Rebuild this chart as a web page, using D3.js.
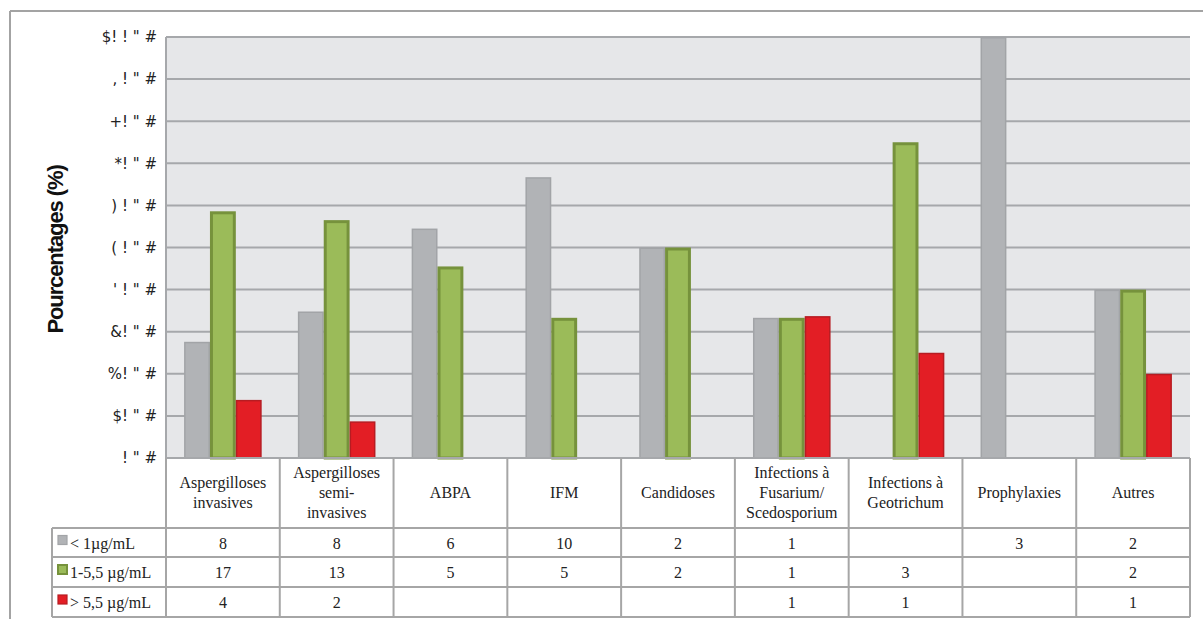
<!DOCTYPE html>
<html><head><meta charset="utf-8">
<script src="https://cdn.jsdelivr.net/npm/d3@7/dist/d3.min.js"></script>
<style>body{margin:0;background:#fff}svg{display:block}</style>
</head><body>
<svg id="c" width="1203" height="619"></svg>
<script>
const categories = [["Aspergilloses","invasives"],["Aspergilloses","semi-","invasives"],["ABPA"],["IFM"],["Candidoses"],["Infections à","Fusarium/","Scedosporium"],["Infections à","Geotrichum"],["Prophylaxies"],["Autres"]];
const seriesNames = ["< 1µg/mL","1-5,5 µg/mL","> 5,5 µg/mL"];
const pctLow  = [27.6, 34.8, 54.5, 66.7, 50, 33.3, null, 100, 40];
const pctMid  = [58.6, 56.5, 45.5, 33.3, 50, 33.3, 75, null, 40];
const pctHigh = [13.8, 8.7, null, null, null, 33.7, 25, null, 20];
const countLow  = ["8","8","6","10","2","1","","3","2"];
const countMid  = ["17","13","5","5","2","1","3","","2"];
const countHigh = ["4","2","","","","1","1","","1"];
const tickValues = [0,10,20,30,40,50,60,70,80,90,100];
const tickLabels = ['! " #','$! " #','%! " #','&! " #',"' ! \" #",'( ! " #',') ! " #','*! " #','+! " #',', ! " #','$! ! " #'];
const yTitle = "Pourcentages (%)";

const fills = ["#b1b3b6","#9bbb59","#e31e25"];
const strokes = ["#a2a4a7","#76923c","#b71c22"];
const strokeW = [1.5,3,1.5];

const svg = d3.select("#c");
const L=166, R=1190, T=37, B=458;
const x = d3.scaleBand().domain(d3.range(categories.length)).range([L,R]);
const xs = d3.scaleBand().domain([0,1,2]).range([0,x.bandwidth()]).paddingInner(0).paddingOuter(0.7);
const y = d3.scaleLinear().domain([0,100]).range([B,T]);
const grid="#a6a8ab";

// frame
svg.append("line").attr("x1",10).attr("x2",1203).attr("y1",11).attr("y2",11).attr("stroke","#a3a3a3").attr("stroke-width",2);
svg.append("line").attr("x1",10).attr("x2",10).attr("y1",11).attr("y2",619).attr("stroke","#a3a3a3").attr("stroke-width",2);

// plot bg
svg.append("rect").attr("x",L).attr("y",T).attr("width",R-L).attr("height",B-T).attr("fill","#e6e7e9");
// gridlines
svg.append("g").selectAll("line").data(tickValues).join("line")
  .attr("x1",L).attr("x2",R).attr("y1",d=>y(d)).attr("y2",d=>y(d))
  .attr("stroke",grid).attr("stroke-width",2);

// y axis
const yAxis = d3.axisLeft(y).tickValues(tickValues).tickSize(0).tickPadding(9).tickFormat((d,i)=>tickLabels[i]);
const ga = svg.append("g").attr("transform",`translate(${L},0)`).call(yAxis);
ga.select(".domain").remove();
ga.selectAll("text").style("font-family","'DejaVu Sans', sans-serif").style("font-size","15px").attr("fill","#222");
svg.append("line").attr("x1",L).attr("x2",L).attr("y1",T).attr("y2",B+4).attr("stroke",grid).attr("stroke-width",2);

// y title
svg.append("text").attr("transform",`translate(63,${(T+B)/2+2}) rotate(-90)`)
  .attr("text-anchor","middle").style("font-family","'Liberation Sans', Arial, sans-serif")
  .style("font-weight","bold").style("font-size","22px").attr("letter-spacing",-1.1).attr("fill","#111").text(yTitle);

// bars
const series=[pctLow,pctMid,pctHigh];
series.forEach((vals,s)=>{
  svg.append("g").selectAll("rect").data(vals.map((v,i)=>({v,i})).filter(d=>d.v!=null)).join("rect")
    .attr("x",d=>x(d.i)+xs(s)+strokeW[s]/2)
    .attr("width",xs.bandwidth()-strokeW[s])
    .attr("y",d=>y(d.v)+strokeW[s]/2)
    .attr("height",d=>y(0)-y(d.v)-strokeW[s]/2)
    .attr("fill",fills[s]).attr("stroke",strokes[s]).attr("stroke-width",strokeW[s]);
});
svg.append("line").attr("x1",L).attr("x2",R).attr("y1",B).attr("y2",B).attr("stroke",grid).attr("stroke-width",2);

// table
const rows=[528,557,587,617];
const LL=52;
const tline=(x1,y1,x2,y2)=>svg.append("line").attr("x1",x1).attr("y1",y1).attr("x2",x2).attr("y2",y2).attr("stroke","#a6a6a6").attr("stroke-width",2);
rows.forEach(r=>tline(LL,r,R,r));
tline(LL,rows[0],LL,rows[3]);
x.domain().forEach(i=>tline(x(i),B,x(i),rows[3]));
tline(R,B,R,rows[3]);

const serif="'Liberation Serif', 'Times New Roman', serif";
categories.forEach((lines,i)=>{
  const cx=x(i)+x.bandwidth()/2, cy=(B+rows[0])/2, lh=20;
  const t=svg.append("text").attr("text-anchor","middle").style("font-family",serif).style("font-size","16px").attr("fill","#222");
  lines.forEach((ln,k)=>t.append("tspan").attr("x",cx).attr("y",cy+(k-(lines.length-1)/2)*lh+5).text(ln));
});
const counts=[countLow,countMid,countHigh];
counts.forEach((arr,s)=>{
  const cy=(rows[s]+rows[s+1])/2+6;
  svg.append("g").selectAll("text").data(arr).join("text")
    .attr("x",(d,i)=>x(i)+x.bandwidth()/2).attr("y",cy).attr("text-anchor","middle")
    .style("font-family",serif).style("font-size","16px").attr("fill","#222").text(d=>d);
  svg.append("rect").attr("x",58).attr("y",cy-13).attr("width",9).attr("height",9)
    .attr("fill",fills[s]).attr("stroke",strokes[s]).attr("stroke-width",s===1?2:1.2);
  svg.append("text").attr("x",70).attr("y",cy).style("font-family",serif).style("font-size","16px").attr("fill","#222").text(seriesNames[s]);
});
</script>
</body></html>
